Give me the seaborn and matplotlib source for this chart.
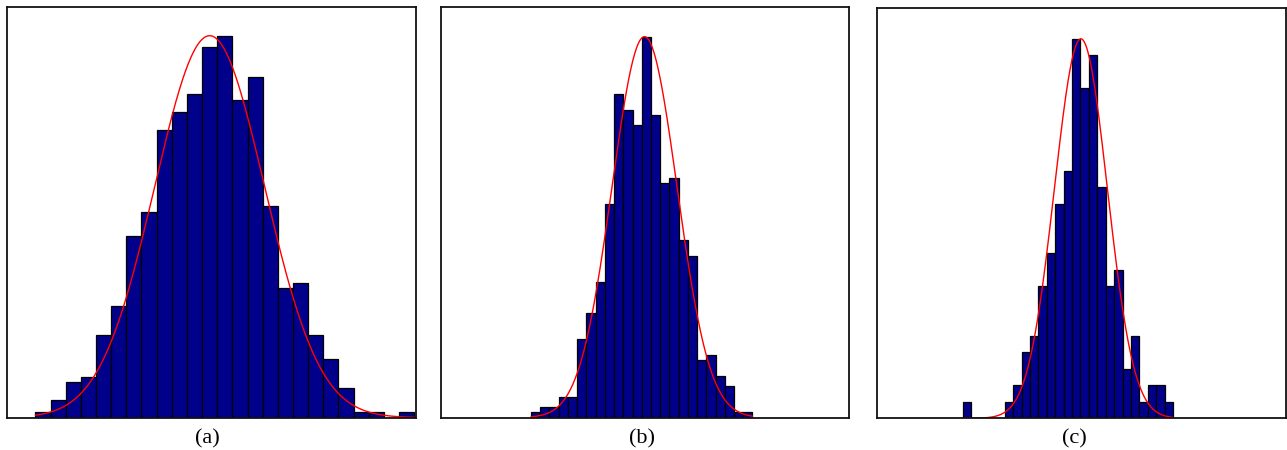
import numpy as np
import pandas as pd
import matplotlib
matplotlib.use("Agg")
import matplotlib.pyplot as plt
import seaborn as sns

# ---- data (bin counts per panel) ----
counts_a = [1, 3, 6, 7, 14, 19, 31, 35, 49, 52, 55, 63, 65, 54, 58, 36, 22, 23, 14, 10, 5, 1, 1, 0, 1]
counts_b = [1, 2, 2, 4, 4, 15, 20, 26, 41, 62, 59, 56, 73, 58, 45, 46, 34, 31, 11, 12, 8, 6, 1, 1]
counts_c = [1, 0, 0, 0, 0, 1, 2, 4, 5, 8, 10, 13, 15, 23, 20, 22, 14, 8, 9, 3, 5, 1, 2, 2, 1]

# fitted normal curve parameters (in bin units)
fit_mu = [11.5, 12.3, 14.05]
fit_sigma = [3.62, 3.52, 3.14]
fit_peak = [65, 73, 23]

labels = ["(a)", "(b)", "(c)"]

# ---- layout (pixels) ----
W, H = 1287, 450
axes_px = [  # left, top, right, bottom
    (6.5, 7.3, 416, 417.7),
    (441, 6.7, 849.3, 417.7),
    (877.3, 8.3, 1285.5, 418.3),
]
xlims = [(-1.91, 25.12), (-9.75, 34.49), (-10.13, 38.35)]
ylims = [(0, 69.83), (0, 78.74), (0, 24.85)]
label_x = [207, 642, 1074]

sns.set_theme(style="white")
plt.rcParams["font.family"] = ["Liberation Serif", "DejaVu Serif"]

fig = plt.figure(figsize=(W / 100, H / 100), dpi=100)

bar_color = "#00008B"
all_counts = [counts_a, counts_b, counts_c]
for i, counts in enumerate(all_counts):
    l, t, r, b = axes_px[i]
    ax = fig.add_axes([l / W, 1 - b / H, (r - l) / W, (b - t) / H])
    n = len(counts)
    df = pd.DataFrame({"x": np.arange(n) + 0.5, "w": np.asarray(counts, dtype=float)})
    sns.histplot(data=df, x="x", weights="w", binwidth=1, binrange=(0, n),
                 color=bar_color, alpha=1.0, edgecolor="black", linewidth=0.9,
                 ax=ax)
    xs = np.linspace(0, n, 400)
    ys = fit_peak[i] * np.exp(-0.5 * ((xs - fit_mu[i]) / fit_sigma[i]) ** 2)
    sns.lineplot(x=xs, y=ys, color="red", linewidth=1.0, ax=ax)
    ax.set_xlim(*xlims[i])
    ax.set_ylim(*ylims[i])
    ax.set_xticks([])
    ax.set_yticks([])
    ax.set_xlabel("")
    ax.set_ylabel("")
    for s in ax.spines.values():
        s.set_visible(True)
        s.set_color("#111111")
        s.set_linewidth(1.3)
    fig.text(label_x[i] / W, 1 - 438.5 / H, labels[i], ha="center", va="center",
             fontsize=16, color="black")

fig.savefig("out.png", dpi=100, facecolor="white")
